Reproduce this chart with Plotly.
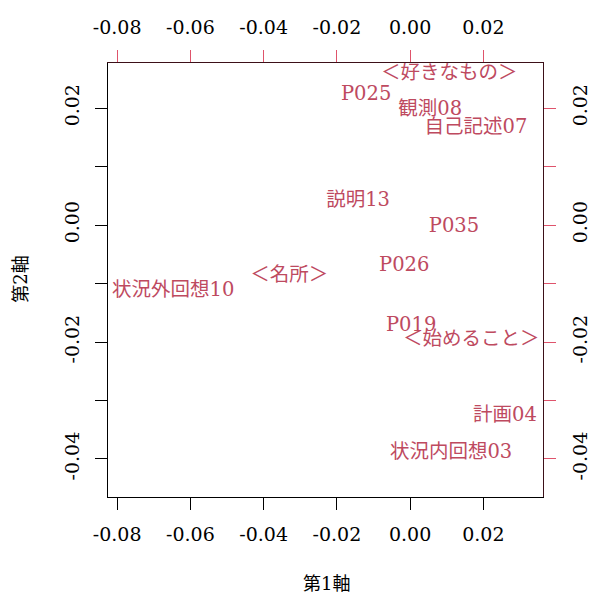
import plotly.graph_objects as go

# Data: biplot labels and coordinates (axis 1, axis 2)
labels = ["＜好きなもの＞", "P025", "観測08", "自己記述07", "説明13", "P035", "P026",
          "＜名所＞", "状況外回想10", "P019", "＜始めること＞", "計画04", "状況内回想03"]
dim1 = [0.0107, -0.0120, 0.0055, 0.0180, -0.0142, 0.0120, -0.0016,
        -0.0330, -0.0647, 0.0003, 0.0167, 0.0259, 0.0112]
dim2 = [0.0258, 0.0222, 0.0197, 0.0166, 0.0041, -0.0003, -0.0070,
        -0.0087, -0.0113, -0.0173, -0.0197, -0.0327, -0.0390]

x_ticks = [-0.08, -0.06, -0.04, -0.02, 0.00, 0.02]
x_ticktext = ["-0.08", "-0.06", "-0.04", "-0.02", "0.00", "0.02"]
y_ticks = [0.02, 0.01, 0.00, -0.01, -0.02, -0.03, -0.04]
y_ticktext = ["0.02", "", "0.00", "", "-0.02", "", "-0.04"]

xr = [-0.0825, 0.0363]
yr = [-0.0465, 0.0277]

SERIF = "DejaVu Serif, Liberation Serif, Noto Sans CJK JP, serif"
RED = "#DF536B"
TXT = "#BE4A5F"

fig = go.Figure()
fig.add_trace(go.Scatter(x=dim1, y=dim2, mode="text", text=labels,
                         textposition="middle center",
                         textfont=dict(family=SERIF, size=19.5, color=TXT),
                         hoverinfo="skip", showlegend=False, cliponaxis=False))
# invisible trace to activate secondary (top/right) axes
fig.add_trace(go.Scatter(x=[dim1[0]], y=[dim2[0]], xaxis="x2", yaxis="y2",
                         mode="markers", marker=dict(opacity=0),
                         hoverinfo="skip", showlegend=False))

tickfont = dict(family=SERIF, size=19, color="black")
common = dict(ticks="outside", ticklen=12, tickwidth=1, showgrid=False,
              zeroline=False, showline=True, linewidth=1.3, tickfont=tickfont,
              ticklabelstandoff=8, automargin=False)
fig.update_layout(
    template="none",
    width=590, height=595,
    margin=dict(l=108, r=47, t=63, b=98, autoexpand=False),
    plot_bgcolor="white", paper_bgcolor="white",
    xaxis=dict(range=xr, tickvals=x_ticks, ticktext=x_ticktext,
               tickcolor="black", linecolor="black", **common),
    yaxis=dict(range=yr, tickvals=y_ticks, ticktext=y_ticktext,
               tickcolor="black", linecolor="black", tickangle=-90, **common),
    xaxis2=dict(range=xr, overlaying="x", side="top", tickvals=x_ticks,
                ticktext=x_ticktext, tickcolor=RED, linecolor="#3c1018", **common),
    yaxis2=dict(range=yr, overlaying="y", side="right", tickvals=y_ticks,
                ticktext=y_ticktext, tickcolor=RED, linecolor="#3c1018",
                tickangle=-90, **common),
    annotations=[
        dict(text="第1軸", xref="paper", yref="paper", x=0.502, y=-0.200,
             showarrow=False, font=dict(family=SERIF, size=18, color="black"),
             xanchor="center", yanchor="middle"),
        dict(text="第2軸", xref="paper", yref="paper", x=-0.203, y=0.502,
             showarrow=False, textangle=-90,
             font=dict(family=SERIF, size=18, color="black"),
             xanchor="center", yanchor="middle"),
    ],
)

fig.write_html("out.html", config={"displayModeBar": False},
               post_script="document.body.style.margin='0';document.body.style.overflow='hidden';")
